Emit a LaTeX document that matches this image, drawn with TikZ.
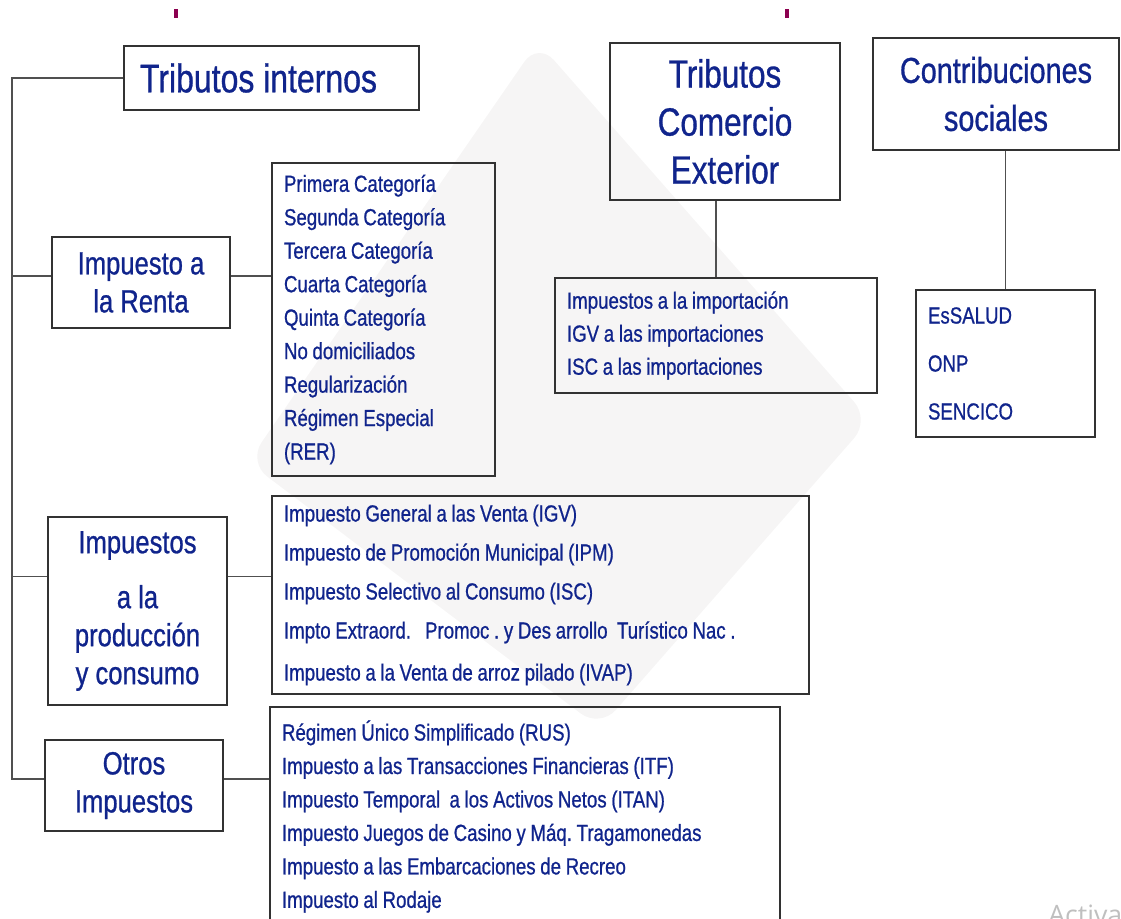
\documentclass[tikz,border=0pt]{standalone}
\usepackage{fontspec}
\setmainfont{Liberation Sans}[FakeStretch=0.8,FakeBold=0.8]
\newfontfamily\avisofont{Open Sans}
\definecolor{sunatblue}{RGB}{16,36,140}
\definecolor{boxline}{RGB}{50,50,50}
\definecolor{conline}{RGB}{80,80,80}
\definecolor{markpurple}{RGB}{140,0,80}
\definecolor{logogray}{RGB}{246,245,245}
\begin{document}
\begin{tikzpicture}[x=0.75pt,y=-0.75pt,
  cat/.style={draw=boxline,line width=1.2pt,text=sunatblue,align=center,inner sep=0pt},
  lista/.style={draw=boxline,line width=1.2pt,text=sunatblue,align=left,inner xsep=9pt,inner ysep=0pt,
    font=\fontsize{17.5}{25.1}\selectfont,execute at begin node={\spaceskip=0.2em\xspaceskip=0.2em\relax}},
  con/.style={draw=conline,line width=1.1pt}]
\useasboundingbox (0,0) rectangle (1121,918);
\fill[logogray,rounded corners=18pt] (538,42) -- (870,420) -- (600,728) -- (248,462) -- cycle;
\fill[markpurple] (174,9) rectangle (178,18);
\fill[markpurple] (785,9) rectangle (789,18);

\node[cat,minimum width=221.25pt,minimum height=48pt,inner xsep=12pt,text width=197.25pt,align=left,font=\fontsize{30}{35}\selectfont,execute at begin node={\spaceskip=0.22em\relax}] (ti) at (271.5,78) {Tributos internos};
\node[cat,minimum width=172.5pt,minimum height=117.75pt,font=\fontsize{29.5}{36}\selectfont] (tce) at (725,121.5) {Tributos\\Comercio\\Exterior};
\node[cat,minimum width=184.5pt,minimum height=84pt,font=\fontsize{27}{36}\selectfont] (cs) at (996,94) {Contribuciones\\sociales};
\node[cat,minimum width=133.5pt,minimum height=68.25pt,font=\fontsize{24}{28.5}\selectfont] (ir) at (141,282.5) {Impuesto a\\la Renta};
\node[cat,minimum width=134.25pt,minimum height=141pt,font=\fontsize{24}{28.5}\selectfont] (ip) at (137.5,611) {Impuestos\\[12.75pt]a la\\producción\\y consumo};
\node[cat,minimum width=133.5pt,minimum height=68.25pt,font=\fontsize{24}{28.5}\selectfont] (oi) at (134,785.5) {Otros\\Impuestos};

\node[lista,text width=149.25pt,minimum height=234.75pt] (lr) at (383.5,319.5) {Primera Categoría\\Segunda Categoría\\Tercera Categoría\\Cuarta Categoría\\Quinta Categoría\\No domiciliados\\Regularización\\Régimen Especial\\(RER)};
\node[lista,text width=223.5pt,minimum height=86.25pt,font=\fontsize{17.5}{24.75}\selectfont] (lce) at (716,335.5) {Impuestos a la importación\\IGV a las importaciones\\ISC a las importaciones};
\node[lista,text width=116.25pt,minimum height=110.25pt,font=\fontsize{17.5}{36}\selectfont] (lcs) at (1005.5,363.5) {EsSALUD\\ONP\\SENCICO};
\node[lista,text width=384.75pt,minimum height=148.5pt,font=\fontsize{17.5}{29.25}\selectfont] (lp) at (540.5,595) {Impuesto General a las Venta (IGV)\\Impuesto de Promoción Municipal (IPM)\\Impuesto Selectivo al Consumo (ISC)\\Impto Extraord.\ \ \ Promoc . y Des\hspace{0.2em}arrollo\ \ Turístico Nac\ .\\[2.25pt]Impuesto a la Venta de arroz pilado (IVAP)};
\node[lista,text width=364.5pt,minimum height=164.25pt] (lo) at (525,816.5) {Régimen Único Simplificado (RUS)\\Impuesto a las Transacciones Financieras (ITF)\\Impuesto Temporal\ \ a los Activos Netos (ITAN)\\Impuesto Juegos de Casino y Máq. Tragamonedas\\Impuesto a las Embarcaciones de Recreo\\Impuesto al Rodaje};

\coordinate (tronco) at (12,78);
\draw[con] (ti.west) -- (tronco) -- (tronco |- oi.176) -- (oi.176);
\draw[con] (tronco |- ir.176) -- (ir.176);
\draw[con] (tronco |- ip.159) -- (ip.159);
\draw[con] (ir.4) -- (ir.4 -| lr.west);
\draw[con] (ip.21) -- (ip.21 -| lp.west);
\draw[con] (oi.4) -- (oi.4 -| lo.west);
\draw[con] (tce.south -| lce.north) -- (lce.north);
\draw[con] (cs.south -| lcs.north) -- (lcs.north);

\node[anchor=base west,inner sep=0pt,text=gray!50,font=\avisofont\fontsize{20}{24}\selectfont] (aviso) at (1048,924) {Activa};
\end{tikzpicture}
\end{document}
